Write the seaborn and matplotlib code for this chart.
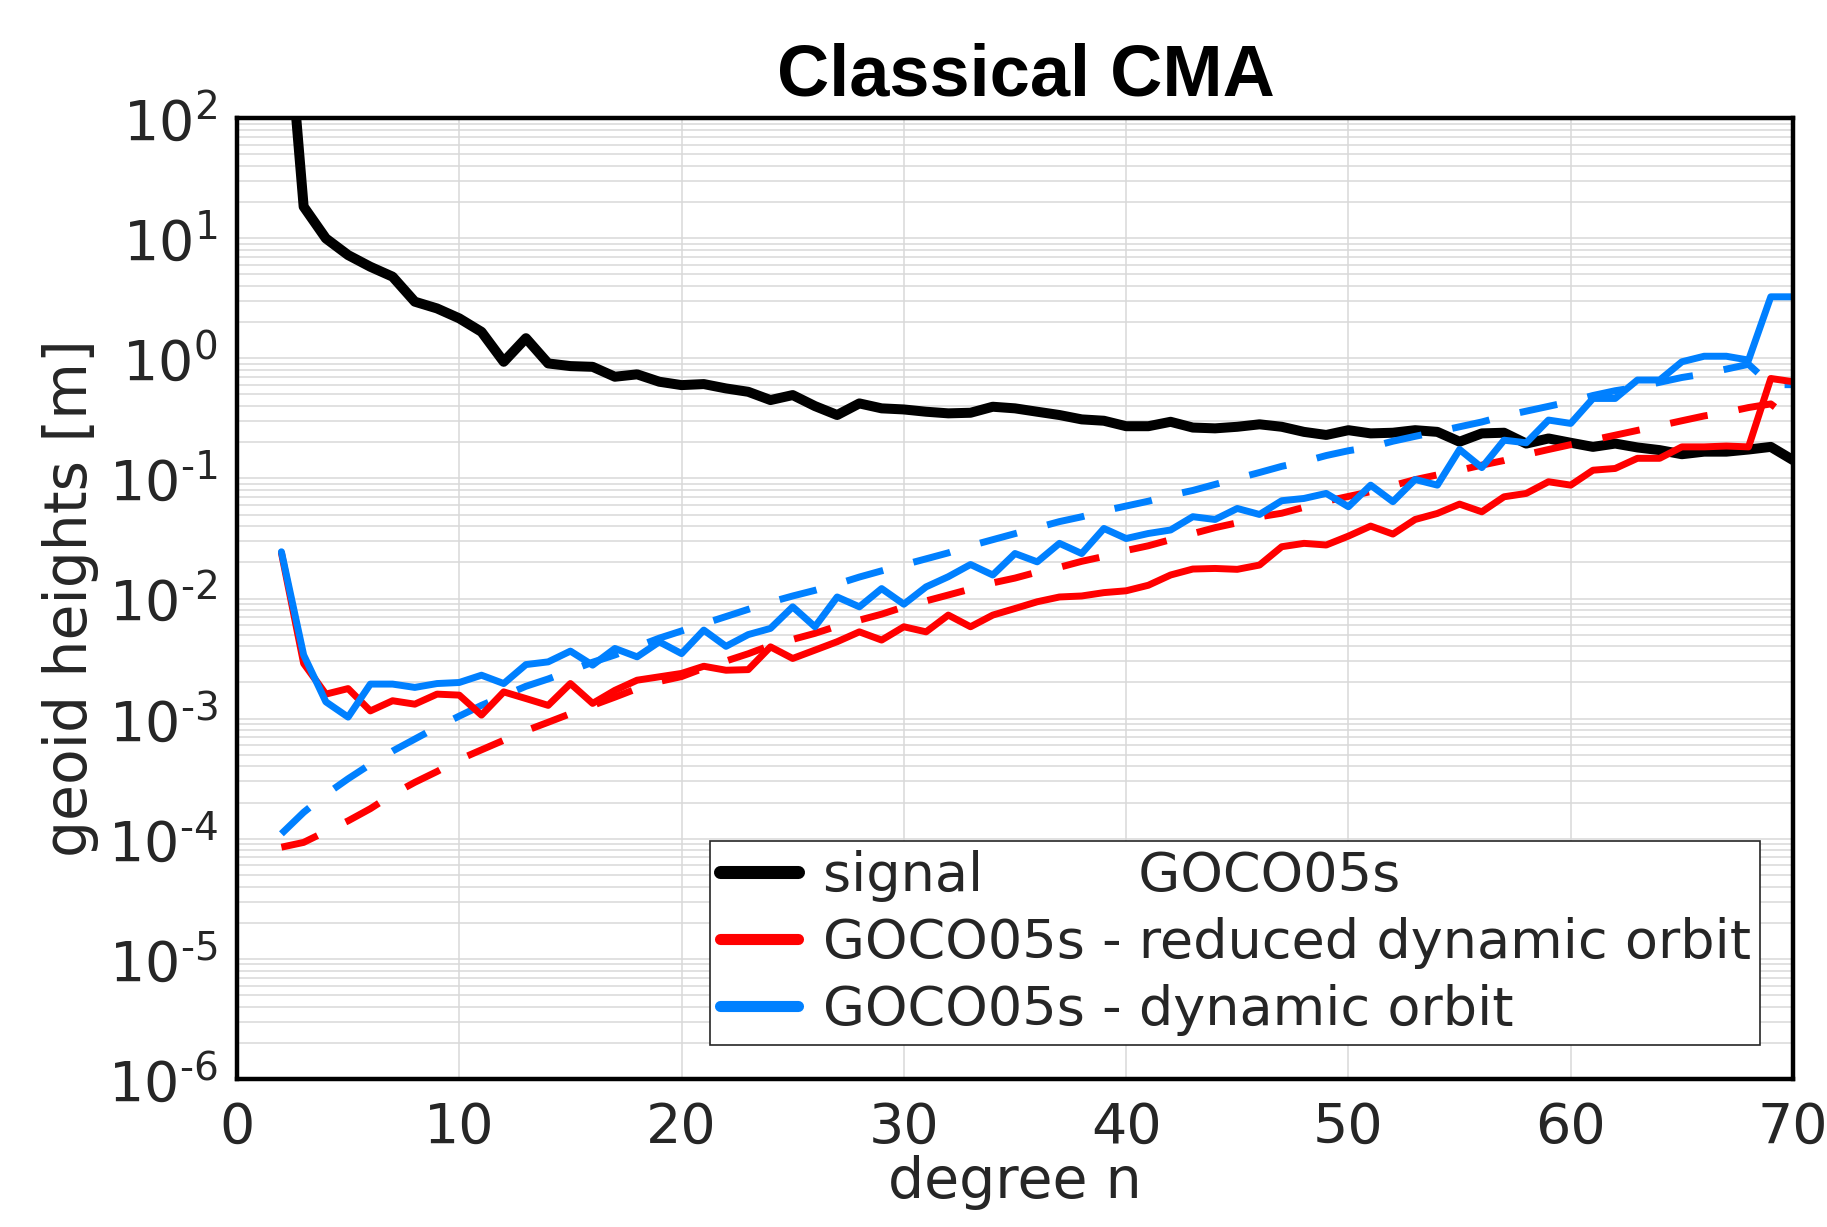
import math

import matplotlib
import pandas as pd
import seaborn as sns

matplotlib.use("Agg")
import matplotlib.pyplot as plt
from matplotlib.lines import Line2D
from matplotlib.ticker import FixedLocator, FuncFormatter, MultipleLocator, NullFormatter


# spherical harmonic degree n
DEGREES = list(range(2, 71))

# geoid height degree amplitudes [m]
SIGNAL_GOCO05S = [
    3000, 18.3, 9.95, 7.23, 5.78, 4.78, 2.96, 2.60, 2.15, 1.66,
    0.935, 1.47, 0.906, 0.861, 0.849, 0.702, 0.735, 0.638, 0.598, 0.610,
    0.561, 0.526, 0.449, 0.494, 0.400, 0.337, 0.421, 0.383, 0.375, 0.359,
    0.348, 0.352, 0.395, 0.383, 0.359, 0.337, 0.310, 0.302, 0.272, 0.272,
    0.296, 0.265, 0.261, 0.269, 0.282, 0.269, 0.244, 0.230, 0.252, 0.237,
    0.240, 0.252, 0.244, 0.202, 0.237, 0.240, 0.195, 0.215, 0.198, 0.183,
    0.195, 0.181, 0.172, 0.159, 0.167, 0.167, 0.174, 0.183, 0.142,
]
DIFF_REDUCED_DYNAMIC = [
    0.024, 2.88e-3, 1.60e-3, 1.78e-3, 1.16e-3, 1.41e-3, 1.32e-3, 1.60e-3, 1.57e-3, 1.07e-3,
    1.67e-3, 1.47e-3, 1.29e-3, 1.96e-3, 1.34e-3, 1.72e-3, 2.09e-3, 2.23e-3, 2.38e-3, 2.73e-3,
    2.53e-3, 2.56e-3, 3.96e-3, 3.17e-3, 3.72e-3, 4.37e-3, 5.28e-3, 4.51e-3, 5.82e-3, 5.28e-3,
    7.28e-3, 5.82e-3, 7.28e-3, 8.26e-3, 9.40e-3, 0.0103, 0.0105, 0.0112, 0.0116, 0.0129,
    0.0157, 0.0176, 0.0178, 0.0175, 0.0190, 0.0270, 0.0288, 0.0279, 0.0331, 0.0401,
    0.0344, 0.0455, 0.0511, 0.0611, 0.0527, 0.0703, 0.0750, 0.0938, 0.0879, 0.117,
    0.121, 0.147, 0.147, 0.183, 0.183, 0.186, 0.183, 0.679, 0.638,
]
DIFF_DYNAMIC = [
    0.0245, 3.39e-3, 1.38e-3, 1.03e-3, 1.94e-3, 1.94e-3, 1.82e-3, 1.96e-3, 2.00e-3, 2.30e-3,
    1.96e-3, 2.82e-3, 2.97e-3, 3.65e-3, 2.79e-3, 3.84e-3, 3.27e-3, 4.36e-3, 3.48e-3, 5.46e-3,
    4.00e-3, 5.01e-3, 5.64e-3, 8.53e-3, 5.82e-3, 0.0103, 8.53e-3, 0.0121, 8.97e-3, 0.0125,
    0.0152, 0.0192, 0.0157, 0.0237, 0.0202, 0.0288, 0.0237, 0.0383, 0.0316, 0.0348,
    0.0372, 0.0480, 0.0455, 0.0562, 0.0501, 0.0652, 0.0681, 0.0750, 0.0581, 0.0879,
    0.0640, 0.0979, 0.0879, 0.174, 0.123, 0.208, 0.198, 0.306, 0.287, 0.463,
    0.463, 0.659, 0.659, 0.935, 1.04, 1.04, 0.966, 3.25, 3.25,
]
ERROR_REDUCED_DYNAMIC = [
    8.51e-5, 9.33e-5, 1.15e-4, 1.41e-4, 1.78e-4, 2.34e-4, 2.95e-4, 3.63e-4, 4.57e-4, 5.50e-4,
    6.61e-4, 7.94e-4, 9.33e-4, 1.10e-3, 1.29e-3, 1.51e-3, 1.78e-3, 2.04e-3, 2.24e-3, 2.63e-3,
    3.02e-3, 3.47e-3, 4.07e-3, 4.57e-3, 5.13e-3, 5.89e-3, 6.61e-3, 7.41e-3, 8.51e-3, 9.55e-3,
    0.0107, 0.0120, 0.0135, 0.0148, 0.0166, 0.0182, 0.0204, 0.0224, 0.0251, 0.0275,
    0.0309, 0.0347, 0.0389, 0.0427, 0.0479, 0.0513, 0.0575, 0.0646, 0.0708, 0.0776,
    0.0871, 0.0977, 0.107, 0.117, 0.129, 0.141, 0.158, 0.174, 0.191, 0.209,
    0.229, 0.251, 0.275, 0.302, 0.331, 0.355, 0.389, 0.417, 0.302,
]
ERROR_DYNAMIC = [
    1.10e-4, 1.66e-4, 2.34e-4, 3.16e-4, 4.17e-4, 5.37e-4, 6.76e-4, 8.51e-4, 1.05e-3, 1.29e-3,
    1.55e-3, 1.86e-3, 2.14e-3, 2.51e-3, 2.95e-3, 3.39e-3, 3.98e-3, 4.68e-3, 5.37e-3, 6.17e-3,
    7.08e-3, 8.13e-3, 9.33e-3, 0.0105, 0.0117, 0.0132, 0.0151, 0.0170, 0.0191, 0.0214,
    0.0240, 0.0275, 0.0309, 0.0347, 0.0389, 0.0437, 0.0479, 0.0537, 0.0589, 0.0646,
    0.0724, 0.0794, 0.0891, 0.100, 0.112, 0.126, 0.138, 0.155, 0.170, 0.182,
    0.204, 0.224, 0.245, 0.269, 0.295, 0.331, 0.363, 0.398, 0.437, 0.490,
    0.537, 0.575, 0.631, 0.692, 0.741, 0.813, 0.891, 0.603, 0.603,
]

# axis ticks
X_TICKS = [0, 10, 20, 30, 40, 50, 60, 70]
Y_DECADES = [1e-6, 1e-5, 1e-4, 1e-3, 1e-2, 1e-1, 1e0, 1e1, 1e2]

LEGEND_LABELS = [
    "signal         GOCO05s",
    "GOCO05s - reduced dynamic orbit",
    "GOCO05s - dynamic orbit",
]

BLACK = "#000000"
RED = "#ff0000"
BLUE = "#0080ff"
TEXT_GRAY = "#262626"
GRID_GRAY = "#d9d9d9"
DASH = (0, (5.5, 4.5))


def configure_plot_style() -> None:
    sns.set_theme(style="white")
    plt.rcParams.update(
        {
            "font.family": ["DejaVu Sans"],
            "mathtext.fontset": "dejavusans",
        }
    )


def decade_label(value: float, _pos: int) -> str:
    exponent = int(round(math.log10(value)))
    if exponent < 0:
        # plain hyphen in the superscript, like the original figure
        return rf"$\mathdefault{{10^{{\text{{-}}{abs(exponent)}}}}}$"
    return rf"$\mathdefault{{10^{{{exponent}}}}}$"


def main() -> None:
    configure_plot_style()
    df = pd.DataFrame(
        {
            "degree": DEGREES,
            "signal": SIGNAL_GOCO05S,
            "diff_rd": DIFF_REDUCED_DYNAMIC,
            "diff_dyn": DIFF_DYNAMIC,
            "err_rd": ERROR_REDUCED_DYNAMIC,
            "err_dyn": ERROR_DYNAMIC,
        }
    )

    fig = plt.figure(figsize=(9.135, 6.135), dpi=200)
    ax = fig.add_axes([0.1297, 0.1206, 0.8517, 0.7832])

    common = dict(data=df, x="degree", ax=ax, estimator=None, legend=False)
    sns.lineplot(y="signal", color=BLACK, linewidth=3.6, zorder=3, **common)
    sns.lineplot(y="err_rd", color=RED, linewidth=2.5, linestyle=DASH, zorder=4, **common)
    sns.lineplot(y="err_dyn", color=BLUE, linewidth=2.5, linestyle=DASH, zorder=5, **common)
    sns.lineplot(y="diff_rd", color=RED, linewidth=2.5, zorder=6, **common)
    sns.lineplot(y="diff_dyn", color=BLUE, linewidth=2.5, zorder=7, **common)

    ax.set_yscale("log")
    ax.set_xlim(0, 70)
    ax.set_ylim(1e-6, 1e2)
    ax.xaxis.set_major_locator(FixedLocator(X_TICKS))
    ax.xaxis.set_minor_locator(FixedLocator([]))
    ax.yaxis.set_major_locator(FixedLocator(Y_DECADES))
    ax.yaxis.set_major_formatter(FuncFormatter(decade_label))
    minor_y = [m * d for d in Y_DECADES[:-1] for m in range(2, 10)]
    ax.yaxis.set_minor_locator(FixedLocator(minor_y))
    ax.yaxis.set_minor_formatter(NullFormatter())

    ax.grid(True, which="major", axis="both", color=GRID_GRAY, linewidth=0.55)
    ax.grid(True, which="minor", axis="y", color=GRID_GRAY, linewidth=0.55)
    ax.set_axisbelow(True)

    ax.tick_params(axis="both", which="both", length=0, labelsize=20, colors=TEXT_GRAY)
    ax.tick_params(axis="x", pad=8)
    ax.tick_params(axis="y", pad=7)

    for spine in ax.spines.values():
        spine.set_visible(True)
        spine.set_color(BLACK)
        spine.set_linewidth(1.6)
        spine.set_zorder(10)

    ax.set_xlabel("degree n", fontsize=20.5, color=TEXT_GRAY, labelpad=0)
    ax.set_ylabel("geoid heights [m]", fontsize=21, color=TEXT_GRAY, labelpad=3)
    ax.set_title("Classical CMA", fontsize=26, fontweight="bold", x=0.507,
                 family=["Liberation Sans", "DejaVu Sans"], color=BLACK, pad=8)

    handles = [
        Line2D([], [], color=BLACK, linewidth=4.7),
        Line2D([], [], color=RED, linewidth=4.0),
        Line2D([], [], color=BLUE, linewidth=4.0),
    ]
    leg = ax.legend(
        handles,
        LEGEND_LABELS,
        loc="lower right",
        bbox_to_anchor=(0.979, 0.035),
        borderaxespad=0,
        fontsize=19.5,
        frameon=True,
        fancybox=False,
        framealpha=1,
        edgecolor=TEXT_GRAY,
        handlelength=1.45,
        handletextpad=0.45,
        labelspacing=0.27,
        borderpad=0.18,
    )
    leg.get_frame().set_linewidth(0.6)
    leg.set_zorder(12)

    fig.savefig("out.png", dpi=200)
    plt.close(fig)


if __name__ == "__main__":
    main()
